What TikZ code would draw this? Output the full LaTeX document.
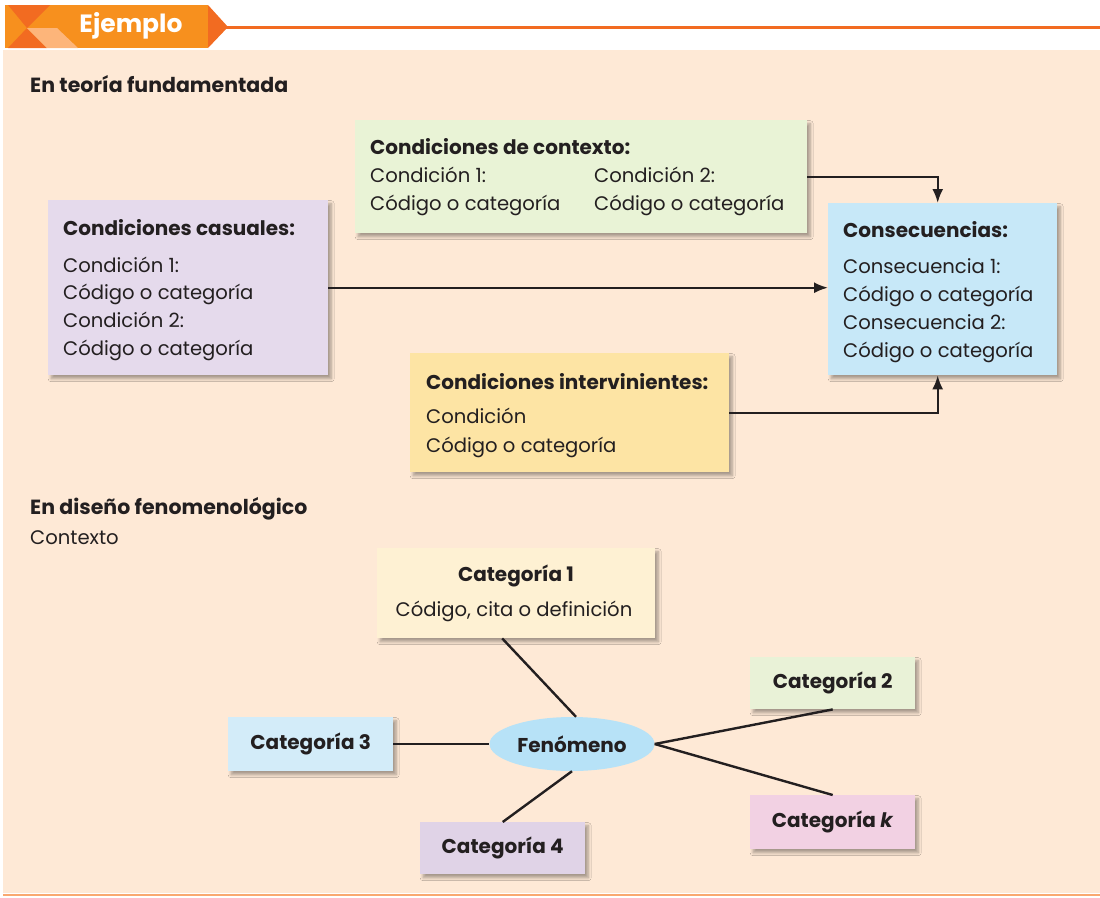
\documentclass[tikz,border=0pt]{standalone}
\usepackage{fontspec}
\setmainfont{Poppins}
\usetikzlibrary{shadows,shadows.blur,arrows.meta,shapes.geometric,calc}
\definecolor{bgpeach}{HTML}{FEE9D6}
\definecolor{ink}{HTML}{231F20}
\definecolor{orangeA}{HTML}{F7901E}
\definecolor{orangeB}{HTML}{F26B21}
\definecolor{orangeC}{HTML}{FDB57A}
\definecolor{lineor}{HTML}{F9A870}
\definecolor{ctxgreen}{HTML}{E9F3D6}
\definecolor{causpurple}{HTML}{E5DAEC}
\definecolor{consblue}{HTML}{C7E8F8}
\definecolor{intyellow}{HTML}{FDE4A4}
\definecolor{catone}{HTML}{FEF1D3}
\definecolor{cattwo}{HTML}{E9F2D7}
\definecolor{catthree}{HTML}{D3ECF9}
\definecolor{catfour}{HTML}{E0D3E7}
\definecolor{catkk}{HTML}{F2D1E3}
\definecolor{fenblue}{HTML}{B7E2F7}
\begin{document}
\begin{tikzpicture}[x=1pt,y=-1pt,
  boxn/.style={rectangle,inner sep=0pt,anchor=north west,
    blur shadow={shadow xshift=3pt,shadow yshift=-3.5pt,shadow opacity=35,shadow blur steps=6,shadow blur radius=3pt}},
  txt/.style={anchor=base west,inner sep=0pt,text=ink,font=\fontsize{19.6}{22}\selectfont},
  btxt/.style={txt,font=\bfseries\fontsize{20}{22}\selectfont},
  stxt/.style={txt,font=\bfseries\fontsize{20.5}{22}\selectfont},
  ctxt/.style={inner sep=0pt,text=ink,font=\bfseries\fontsize{20}{22}\selectfont},
  arr/.style={draw=ink,line width=2.2pt,-{Latex[length=14pt,width=11pt]}},
  link/.style={draw=ink,line width=2.4pt}]
\useasboundingbox (0,0) rectangle (1100,897);
% background
\fill[bgpeach] (3,50) rectangle (1100,893);
\draw[lineor,line width=2pt] (3,895) -- (1100,895);
% header
\fill[orangeA] (5,5) rectangle (208,48);
\fill[orangeB] (208,5) -- (228,27) -- (208,48) -- cycle;
\draw[orangeB,line width=3pt] (226,27) -- (1100,27);
\fill[orangeB] (8,5) -- (50,5) -- (27,28) -- cycle;
\fill[orangeB] (27,28) -- (47,48) -- (8,48) -- cycle;
\fill[orangeC] (27,28) -- (57,28) -- (78,48) -- (47,48) -- cycle;
\node[text=white,font=\bfseries\fontsize{25}{28}\selectfont,inner sep=0pt] (title) at (131,26) {Ejemplo};
% section 1
\node[stxt] (sec1) at (30,92) {En teoría fundamentada};
\node[boxn,fill=ctxgreen,minimum width=452,minimum height=113] (ctx) at (355,120) {};
\node[btxt] (ctxh) at (370,154) {Condiciones de contexto:};
\node[txt] (ctxa) at (370,182) {Condición 1:};
\node[txt] (ctxb) at (370,210) {Código o categoría};
\node[txt] (ctxc) at (594,182) {Condición 2:};
\node[txt] (ctxd) at (594,210) {Código o categoría};
\node[boxn,fill=causpurple,minimum width=280,minimum height=175] (caus) at (48,200) {};
\node[btxt] (caush) at (63,235) {Condiciones casuales:};
\node[txt] (causa) at (63,272) {Condición 1:};
\node[txt] (causb) at (63,299) {Código o categoría};
\node[txt] (causc) at (63,327) {Condición 2:};
\node[txt] (causd) at (63,355) {Código o categoría};
\node[boxn,fill=consblue,minimum width=229,minimum height=172] (cons) at (828,203) {};
\node[btxt] (consh) at (843,237) {Consecuencias:};
\node[txt] (consa) at (843,273) {Consecuencia 1:};
\node[txt] (consb) at (843,301) {Código o categoría};
\node[txt] (consc) at (843,329) {Consecuencia 2:};
\node[txt] (consd) at (843,357) {Código o categoría};
\node[boxn,fill=intyellow,minimum width=319,minimum height=119] (interv) at (410,353) {};
\node[btxt] (intervh) at (426,389) {Condiciones intervinientes:};
\node[txt] (interva) at (426,423) {Condición};
\node[txt] (intervb) at (426,452) {Código o categoría};
\draw[arr] (ctx.east) -| ([xshift=-5pt]cons.north);
\draw[arr] (caus.east) -- (caus.east -| cons.west);
\draw[arr] (interv.east) -| ([xshift=-5pt]cons.south);
% section 2
\node[stxt] (sec2) at (30,514) {En diseño fenomenológico};
\node[txt] (ctxlabel) at (30,544) {Contexto};
\node[boxn,fill=catone,minimum width=278,minimum height=90] (cat1) at (377,548) {};
\node[ctxt] (cat1h) at (516,576) {Categoría 1};
\node[ctxt,font=\fontsize{19.6}{22}\selectfont] (cat1t) at (514,611) {Código, cita o definición};
\node[boxn,fill=cattwo,minimum width=165,minimum height=52] (cat2) at (750,657) {};
\node[ctxt] (cat2t) at (cat2.center) {Categoría 2};
\node[boxn,fill=catthree,minimum width=165,minimum height=54] (cat3) at (228,717) {};
\node[ctxt] (cat3t) at (cat3.center) {Categoría 3};
\node[boxn,fill=catfour,minimum width=165,minimum height=52] (cat4) at (420,822) {};
\node[ctxt] (cat4t) at (cat4.center) {Categoría 4};
\node[boxn,fill=catkk,minimum width=165,minimum height=54] (catk) at (750,795) {};
\node[ctxt] (catkt) at (catk.center) {Categoría \textit{k}};
\node[ellipse,fill=fenblue,inner sep=0pt,minimum width=165,minimum height=54,text=ink,font=\bfseries\fontsize{20}{22}\selectfont] (fen) at (572,744) {Fenómeno};
\draw[link] ([xshift=-14pt]cat1.south) -- ([xshift=4pt]fen.north);
\draw[link] (cat3.east) -- (cat3.east -| fen.west);
\draw[link] (cat4.north) -- (fen.south);
\draw[link] (fen.east) -- (cat2.south);
\draw[link] (fen.east) -- (catk.north);
\end{tikzpicture}
\end{document}
